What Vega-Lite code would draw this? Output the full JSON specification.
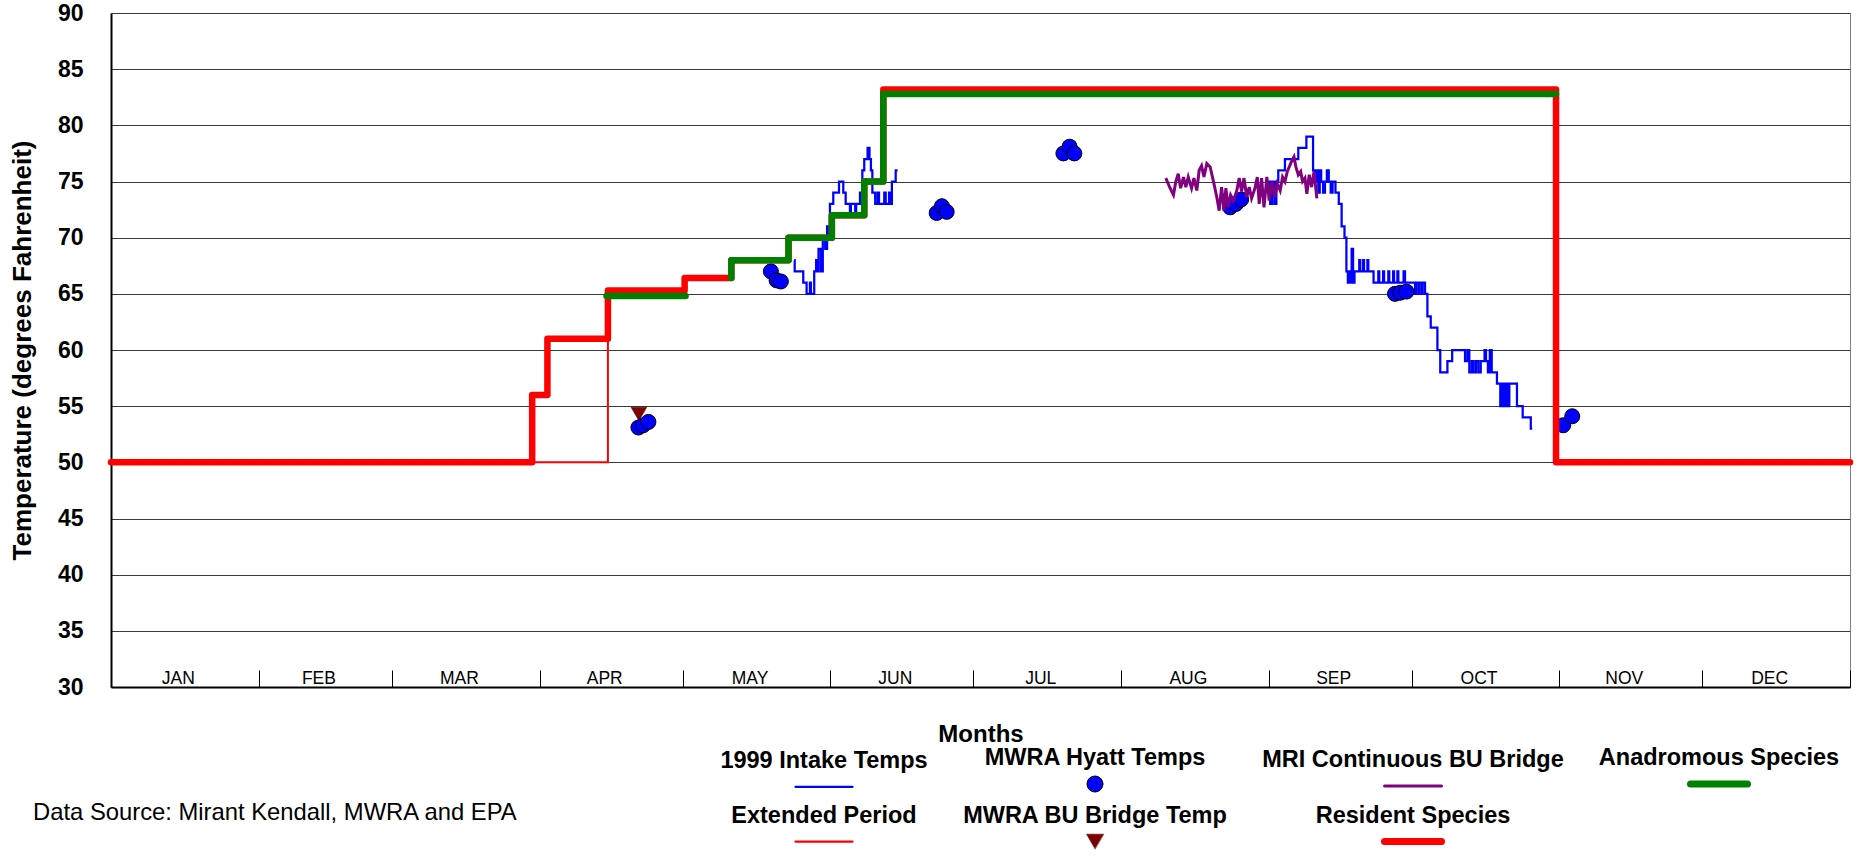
{
  "$schema": "https://vega.github.io/schema/vega-lite/v6.json",
  "autosize": {"type": "none"},
  "padding": {"left": 111, "top": 13, "right": 9, "bottom": 170},
  "width": 1739,
  "height": 674,
  "background": "white",
  "config": {
    "view": {"stroke": "#808080", "strokeWidth": 1},
    "font": "Liberation Sans"
  },
  "title": {
    "text": "Data Source: Mirant Kendall, MWRA and EPA",
    "orient": "bottom",
    "anchor": "start",
    "frame": "group",
    "font": "Liberation Sans",
    "fontSize": 23.8,
    "fontWeight": "normal",
    "color": "#000000",
    "baseline": "middle",
    "offset": 0,
    "dx": -78,
    "dy": -43
  },
  "datasets": {
    "lines": [
      {"series": "1999 Intake Temps", "seg": 1, "day": 143.4, "temp": 68},
      {"series": "1999 Intake Temps", "seg": 1, "day": 143.5, "temp": 67},
      {"series": "1999 Intake Temps", "seg": 1, "day": 145.3, "temp": 66},
      {"series": "1999 Intake Temps", "seg": 1, "day": 146.0, "temp": 65},
      {"series": "1999 Intake Temps", "seg": 1, "day": 146.7, "temp": 66},
      {"series": "1999 Intake Temps", "seg": 1, "day": 146.9, "temp": 65},
      {"series": "1999 Intake Temps", "seg": 1, "day": 147.6, "temp": 67},
      {"series": "1999 Intake Temps", "seg": 1, "day": 148.0, "temp": 68},
      {"series": "1999 Intake Temps", "seg": 1, "day": 148.3, "temp": 67},
      {"series": "1999 Intake Temps", "seg": 1, "day": 148.5, "temp": 69},
      {"series": "1999 Intake Temps", "seg": 1, "day": 149.0, "temp": 67},
      {"series": "1999 Intake Temps", "seg": 1, "day": 149.4, "temp": 70},
      {"series": "1999 Intake Temps", "seg": 1, "day": 149.9, "temp": 69},
      {"series": "1999 Intake Temps", "seg": 1, "day": 150.3, "temp": 71},
      {"series": "1999 Intake Temps", "seg": 1, "day": 150.6, "temp": 70},
      {"series": "1999 Intake Temps", "seg": 1, "day": 150.9, "temp": 73},
      {"series": "1999 Intake Temps", "seg": 1, "day": 151.6, "temp": 74},
      {"series": "1999 Intake Temps", "seg": 1, "day": 152.8, "temp": 75},
      {"series": "1999 Intake Temps", "seg": 1, "day": 153.7, "temp": 74},
      {"series": "1999 Intake Temps", "seg": 1, "day": 154.2, "temp": 73},
      {"series": "1999 Intake Temps", "seg": 1, "day": 155.1, "temp": 72},
      {"series": "1999 Intake Temps", "seg": 1, "day": 155.3, "temp": 73},
      {"series": "1999 Intake Temps", "seg": 1, "day": 156.2, "temp": 72},
      {"series": "1999 Intake Temps", "seg": 1, "day": 156.4, "temp": 73},
      {"series": "1999 Intake Temps", "seg": 1, "day": 157.2, "temp": 74},
      {"series": "1999 Intake Temps", "seg": 1, "day": 157.7, "temp": 76},
      {"series": "1999 Intake Temps", "seg": 1, "day": 158.1, "temp": 77},
      {"series": "1999 Intake Temps", "seg": 1, "day": 158.8, "temp": 78},
      {"series": "1999 Intake Temps", "seg": 1, "day": 159.2, "temp": 77},
      {"series": "1999 Intake Temps", "seg": 1, "day": 159.5, "temp": 76},
      {"series": "1999 Intake Temps", "seg": 1, "day": 159.8, "temp": 74},
      {"series": "1999 Intake Temps", "seg": 1, "day": 160.4, "temp": 73},
      {"series": "1999 Intake Temps", "seg": 1, "day": 160.9, "temp": 74},
      {"series": "1999 Intake Temps", "seg": 1, "day": 161.2, "temp": 73},
      {"series": "1999 Intake Temps", "seg": 1, "day": 162.3, "temp": 74},
      {"series": "1999 Intake Temps", "seg": 1, "day": 162.6, "temp": 73},
      {"series": "1999 Intake Temps", "seg": 1, "day": 163.3, "temp": 74},
      {"series": "1999 Intake Temps", "seg": 1, "day": 163.6, "temp": 73},
      {"series": "1999 Intake Temps", "seg": 1, "day": 163.9, "temp": 75},
      {"series": "1999 Intake Temps", "seg": 1, "day": 164.7, "temp": 76},
      {"series": "1999 Intake Temps", "seg": 1, "day": 165.1, "temp": 76},
      {"series": "1999 Intake Temps", "seg": 2, "day": 242.8, "temp": 75},
      {"series": "1999 Intake Temps", "seg": 2, "day": 243.3, "temp": 73},
      {"series": "1999 Intake Temps", "seg": 2, "day": 243.7, "temp": 75},
      {"series": "1999 Intake Temps", "seg": 2, "day": 244.2, "temp": 73},
      {"series": "1999 Intake Temps", "seg": 2, "day": 244.6, "temp": 75},
      {"series": "1999 Intake Temps", "seg": 2, "day": 245.0, "temp": 76},
      {"series": "1999 Intake Temps", "seg": 2, "day": 246.4, "temp": 77},
      {"series": "1999 Intake Temps", "seg": 2, "day": 249.2, "temp": 78},
      {"series": "1999 Intake Temps", "seg": 2, "day": 250.9, "temp": 79},
      {"series": "1999 Intake Temps", "seg": 2, "day": 252.3, "temp": 76},
      {"series": "1999 Intake Temps", "seg": 2, "day": 252.7, "temp": 75},
      {"series": "1999 Intake Temps", "seg": 2, "day": 253.0, "temp": 76},
      {"series": "1999 Intake Temps", "seg": 2, "day": 253.4, "temp": 74},
      {"series": "1999 Intake Temps", "seg": 2, "day": 253.7, "temp": 76},
      {"series": "1999 Intake Temps", "seg": 2, "day": 254.0, "temp": 75},
      {"series": "1999 Intake Temps", "seg": 2, "day": 254.4, "temp": 74},
      {"series": "1999 Intake Temps", "seg": 2, "day": 254.8, "temp": 75},
      {"series": "1999 Intake Temps", "seg": 2, "day": 255.2, "temp": 76},
      {"series": "1999 Intake Temps", "seg": 2, "day": 255.6, "temp": 75},
      {"series": "1999 Intake Temps", "seg": 2, "day": 256.0, "temp": 74},
      {"series": "1999 Intake Temps", "seg": 2, "day": 256.4, "temp": 75},
      {"series": "1999 Intake Temps", "seg": 2, "day": 257.0, "temp": 74},
      {"series": "1999 Intake Temps", "seg": 2, "day": 257.7, "temp": 73},
      {"series": "1999 Intake Temps", "seg": 2, "day": 258.3, "temp": 71},
      {"series": "1999 Intake Temps", "seg": 2, "day": 258.9, "temp": 70},
      {"series": "1999 Intake Temps", "seg": 2, "day": 259.3, "temp": 67},
      {"series": "1999 Intake Temps", "seg": 2, "day": 259.6, "temp": 66},
      {"series": "1999 Intake Temps", "seg": 2, "day": 259.9, "temp": 67},
      {"series": "1999 Intake Temps", "seg": 2, "day": 260.2, "temp": 66},
      {"series": "1999 Intake Temps", "seg": 2, "day": 260.4, "temp": 69},
      {"series": "1999 Intake Temps", "seg": 2, "day": 260.7, "temp": 66},
      {"series": "1999 Intake Temps", "seg": 2, "day": 261.0, "temp": 67},
      {"series": "1999 Intake Temps", "seg": 2, "day": 262.0, "temp": 68},
      {"series": "1999 Intake Temps", "seg": 2, "day": 262.2, "temp": 67},
      {"series": "1999 Intake Temps", "seg": 2, "day": 262.8, "temp": 68},
      {"series": "1999 Intake Temps", "seg": 2, "day": 263.0, "temp": 67},
      {"series": "1999 Intake Temps", "seg": 2, "day": 263.7, "temp": 68},
      {"series": "1999 Intake Temps", "seg": 2, "day": 263.9, "temp": 67},
      {"series": "1999 Intake Temps", "seg": 2, "day": 265.0, "temp": 66},
      {"series": "1999 Intake Temps", "seg": 2, "day": 266.0, "temp": 67},
      {"series": "1999 Intake Temps", "seg": 2, "day": 266.2, "temp": 66},
      {"series": "1999 Intake Temps", "seg": 2, "day": 267.0, "temp": 67},
      {"series": "1999 Intake Temps", "seg": 2, "day": 267.2, "temp": 66},
      {"series": "1999 Intake Temps", "seg": 2, "day": 268.1, "temp": 67},
      {"series": "1999 Intake Temps", "seg": 2, "day": 268.3, "temp": 66},
      {"series": "1999 Intake Temps", "seg": 2, "day": 269.1, "temp": 67},
      {"series": "1999 Intake Temps", "seg": 2, "day": 269.3, "temp": 66},
      {"series": "1999 Intake Temps", "seg": 2, "day": 270.0, "temp": 67},
      {"series": "1999 Intake Temps", "seg": 2, "day": 270.2, "temp": 66},
      {"series": "1999 Intake Temps", "seg": 2, "day": 271.3, "temp": 67},
      {"series": "1999 Intake Temps", "seg": 2, "day": 271.6, "temp": 66},
      {"series": "1999 Intake Temps", "seg": 2, "day": 273.7, "temp": 65},
      {"series": "1999 Intake Temps", "seg": 2, "day": 273.9, "temp": 66},
      {"series": "1999 Intake Temps", "seg": 2, "day": 274.4, "temp": 65},
      {"series": "1999 Intake Temps", "seg": 2, "day": 274.6, "temp": 66},
      {"series": "1999 Intake Temps", "seg": 2, "day": 275.1, "temp": 65},
      {"series": "1999 Intake Temps", "seg": 2, "day": 275.3, "temp": 66},
      {"series": "1999 Intake Temps", "seg": 2, "day": 275.8, "temp": 65},
      {"series": "1999 Intake Temps", "seg": 2, "day": 276.3, "temp": 63},
      {"series": "1999 Intake Temps", "seg": 2, "day": 277.0, "temp": 62},
      {"series": "1999 Intake Temps", "seg": 2, "day": 278.4, "temp": 60},
      {"series": "1999 Intake Temps", "seg": 2, "day": 279.0, "temp": 58},
      {"series": "1999 Intake Temps", "seg": 2, "day": 280.5, "temp": 59},
      {"series": "1999 Intake Temps", "seg": 2, "day": 281.5, "temp": 60},
      {"series": "1999 Intake Temps", "seg": 2, "day": 284.2, "temp": 59},
      {"series": "1999 Intake Temps", "seg": 2, "day": 284.7, "temp": 60},
      {"series": "1999 Intake Temps", "seg": 2, "day": 285.1, "temp": 58},
      {"series": "1999 Intake Temps", "seg": 2, "day": 285.6, "temp": 59},
      {"series": "1999 Intake Temps", "seg": 2, "day": 286.0, "temp": 58},
      {"series": "1999 Intake Temps", "seg": 2, "day": 286.5, "temp": 59},
      {"series": "1999 Intake Temps", "seg": 2, "day": 287.0, "temp": 58},
      {"series": "1999 Intake Temps", "seg": 2, "day": 287.5, "temp": 59},
      {"series": "1999 Intake Temps", "seg": 2, "day": 288.3, "temp": 60},
      {"series": "1999 Intake Temps", "seg": 2, "day": 288.6, "temp": 59},
      {"series": "1999 Intake Temps", "seg": 2, "day": 289.0, "temp": 58},
      {"series": "1999 Intake Temps", "seg": 2, "day": 289.4, "temp": 60},
      {"series": "1999 Intake Temps", "seg": 2, "day": 289.8, "temp": 58},
      {"series": "1999 Intake Temps", "seg": 2, "day": 290.9, "temp": 57},
      {"series": "1999 Intake Temps", "seg": 2, "day": 291.6, "temp": 55},
      {"series": "1999 Intake Temps", "seg": 2, "day": 292.0, "temp": 57},
      {"series": "1999 Intake Temps", "seg": 2, "day": 292.4, "temp": 55},
      {"series": "1999 Intake Temps", "seg": 2, "day": 292.8, "temp": 57},
      {"series": "1999 Intake Temps", "seg": 2, "day": 293.2, "temp": 55},
      {"series": "1999 Intake Temps", "seg": 2, "day": 293.5, "temp": 57},
      {"series": "1999 Intake Temps", "seg": 2, "day": 295.1, "temp": 55},
      {"series": "1999 Intake Temps", "seg": 2, "day": 296.3, "temp": 54},
      {"series": "1999 Intake Temps", "seg": 2, "day": 298.0, "temp": 53},
      {"series": "1999 Intake Temps", "seg": 2, "day": 298.3, "temp": 53},

      {"series": "MRI Continuous BU Bridge", "seg": 1, "day": 221.4, "temp": 75.3},
      {"series": "MRI Continuous BU Bridge", "seg": 1, "day": 222.3, "temp": 74.4},
      {"series": "MRI Continuous BU Bridge", "seg": 1, "day": 223.0, "temp": 73.8},
      {"series": "MRI Continuous BU Bridge", "seg": 1, "day": 223.5, "temp": 75.0},
      {"series": "MRI Continuous BU Bridge", "seg": 1, "day": 224.0, "temp": 75.7},
      {"series": "MRI Continuous BU Bridge", "seg": 1, "day": 224.5, "temp": 74.4},
      {"series": "MRI Continuous BU Bridge", "seg": 1, "day": 225.1, "temp": 75.4},
      {"series": "MRI Continuous BU Bridge", "seg": 1, "day": 225.6, "temp": 74.5},
      {"series": "MRI Continuous BU Bridge", "seg": 1, "day": 226.1, "temp": 75.4},
      {"series": "MRI Continuous BU Bridge", "seg": 1, "day": 226.8, "temp": 74.4},
      {"series": "MRI Continuous BU Bridge", "seg": 1, "day": 227.3, "temp": 75.3},
      {"series": "MRI Continuous BU Bridge", "seg": 1, "day": 227.9, "temp": 74.2},
      {"series": "MRI Continuous BU Bridge", "seg": 1, "day": 228.4, "temp": 76.0},
      {"series": "MRI Continuous BU Bridge", "seg": 1, "day": 228.9, "temp": 76.4},
      {"series": "MRI Continuous BU Bridge", "seg": 1, "day": 229.4, "temp": 75.4},
      {"series": "MRI Continuous BU Bridge", "seg": 1, "day": 230.0, "temp": 76.6},
      {"series": "MRI Continuous BU Bridge", "seg": 1, "day": 230.7, "temp": 76.3},
      {"series": "MRI Continuous BU Bridge", "seg": 1, "day": 231.4, "temp": 75.0},
      {"series": "MRI Continuous BU Bridge", "seg": 1, "day": 232.1, "temp": 73.6},
      {"series": "MRI Continuous BU Bridge", "seg": 1, "day": 232.6, "temp": 72.4},
      {"series": "MRI Continuous BU Bridge", "seg": 1, "day": 233.1, "temp": 74.5},
      {"series": "MRI Continuous BU Bridge", "seg": 1, "day": 233.6, "temp": 72.4},
      {"series": "MRI Continuous BU Bridge", "seg": 1, "day": 234.0, "temp": 74.4},
      {"series": "MRI Continuous BU Bridge", "seg": 1, "day": 234.5, "temp": 72.7},
      {"series": "MRI Continuous BU Bridge", "seg": 1, "day": 235.0, "temp": 73.8},
      {"series": "MRI Continuous BU Bridge", "seg": 1, "day": 235.6, "temp": 73.3},
      {"series": "MRI Continuous BU Bridge", "seg": 1, "day": 236.3, "temp": 74.2},
      {"series": "MRI Continuous BU Bridge", "seg": 1, "day": 236.8, "temp": 75.3},
      {"series": "MRI Continuous BU Bridge", "seg": 1, "day": 237.3, "temp": 74.1},
      {"series": "MRI Continuous BU Bridge", "seg": 1, "day": 237.8, "temp": 75.3},
      {"series": "MRI Continuous BU Bridge", "seg": 1, "day": 238.4, "temp": 73.6},
      {"series": "MRI Continuous BU Bridge", "seg": 1, "day": 238.9, "temp": 74.5},
      {"series": "MRI Continuous BU Bridge", "seg": 1, "day": 239.4, "temp": 73.5},
      {"series": "MRI Continuous BU Bridge", "seg": 1, "day": 240.1, "temp": 74.4},
      {"series": "MRI Continuous BU Bridge", "seg": 1, "day": 240.6, "temp": 75.4},
      {"series": "MRI Continuous BU Bridge", "seg": 1, "day": 241.0, "temp": 73.0},
      {"series": "MRI Continuous BU Bridge", "seg": 1, "day": 241.5, "temp": 75.3},
      {"series": "MRI Continuous BU Bridge", "seg": 1, "day": 242.0, "temp": 72.7},
      {"series": "MRI Continuous BU Bridge", "seg": 1, "day": 242.6, "temp": 75.4},
      {"series": "MRI Continuous BU Bridge", "seg": 1, "day": 243.1, "temp": 73.3},
      {"series": "MRI Continuous BU Bridge", "seg": 1, "day": 243.7, "temp": 75.0},
      {"series": "MRI Continuous BU Bridge", "seg": 1, "day": 244.3, "temp": 73.6},
      {"series": "MRI Continuous BU Bridge", "seg": 1, "day": 244.8, "temp": 74.8},
      {"series": "MRI Continuous BU Bridge", "seg": 1, "day": 245.4, "temp": 74.2},
      {"series": "MRI Continuous BU Bridge", "seg": 1, "day": 245.9, "temp": 75.4},
      {"series": "MRI Continuous BU Bridge", "seg": 1, "day": 246.4, "temp": 75.0},
      {"series": "MRI Continuous BU Bridge", "seg": 1, "day": 246.9, "temp": 75.9},
      {"series": "MRI Continuous BU Bridge", "seg": 1, "day": 247.5, "temp": 76.5},
      {"series": "MRI Continuous BU Bridge", "seg": 1, "day": 247.9, "temp": 76.9},
      {"series": "MRI Continuous BU Bridge", "seg": 1, "day": 248.3, "temp": 77.2},
      {"series": "MRI Continuous BU Bridge", "seg": 1, "day": 248.7, "temp": 76.3},
      {"series": "MRI Continuous BU Bridge", "seg": 1, "day": 249.2, "temp": 75.6},
      {"series": "MRI Continuous BU Bridge", "seg": 1, "day": 249.7, "temp": 75.9},
      {"series": "MRI Continuous BU Bridge", "seg": 1, "day": 250.1, "temp": 75.0},
      {"series": "MRI Continuous BU Bridge", "seg": 1, "day": 250.6, "temp": 75.3},
      {"series": "MRI Continuous BU Bridge", "seg": 1, "day": 251.0, "temp": 73.9},
      {"series": "MRI Continuous BU Bridge", "seg": 1, "day": 251.5, "temp": 75.6},
      {"series": "MRI Continuous BU Bridge", "seg": 1, "day": 252.0, "temp": 74.5},
      {"series": "MRI Continuous BU Bridge", "seg": 1, "day": 252.5, "temp": 75.9},
      {"series": "MRI Continuous BU Bridge", "seg": 1, "day": 253.1, "temp": 73.5},

      {"series": "Extended Period", "seg": 1, "day": 88.4, "temp": 50},
      {"series": "Extended Period", "seg": 1, "day": 104.3, "temp": 50},
      {"series": "Extended Period", "seg": 1, "day": 104.3, "temp": 61},

      {"series": "Resident Species", "seg": 1, "day": 0, "temp": 50},
      {"series": "Resident Species", "seg": 1, "day": 88.4, "temp": 56},
      {"series": "Resident Species", "seg": 1, "day": 91.6, "temp": 61},
      {"series": "Resident Species", "seg": 1, "day": 104.3, "temp": 65.3},
      {"series": "Resident Species", "seg": 1, "day": 120.4, "temp": 66.4},
      {"series": "Resident Species", "seg": 1, "day": 130.2, "temp": 68},
      {"series": "Resident Species", "seg": 1, "day": 142.2, "temp": 70},
      {"series": "Resident Species", "seg": 1, "day": 151.3, "temp": 72},
      {"series": "Resident Species", "seg": 1, "day": 158.1, "temp": 75},
      {"series": "Resident Species", "seg": 1, "day": 162.1, "temp": 83.2},
      {"series": "Resident Species", "seg": 1, "day": 303.3, "temp": 50},
      {"series": "Resident Species", "seg": 1, "day": 365, "temp": 50},

      {"series": "Anadromous Species", "seg": 1, "day": 104.0, "temp": 64.8},
      {"series": "Anadromous Species", "seg": 1, "day": 120.6, "temp": 64.8},
      {"series": "Anadromous Species", "seg": 2, "day": 130.2, "temp": 66.4},
      {"series": "Anadromous Species", "seg": 2, "day": 130.2, "temp": 68},
      {"series": "Anadromous Species", "seg": 2, "day": 142.2, "temp": 70},
      {"series": "Anadromous Species", "seg": 2, "day": 151.3, "temp": 72},
      {"series": "Anadromous Species", "seg": 2, "day": 158.1, "temp": 75},
      {"series": "Anadromous Species", "seg": 2, "day": 162.1, "temp": 82.8},
      {"series": "Anadromous Species", "seg": 2, "day": 303.3, "temp": 82.8}
    ],
    "points": [
      {"series": "MWRA BU Bridge Temp", "day": 110.8, "temp": 54.3},
      {"series": "MWRA Hyatt Temps", "day": 110.7, "temp": 53.1},
      {"series": "MWRA Hyatt Temps", "day": 111.7, "temp": 53.3},
      {"series": "MWRA Hyatt Temps", "day": 112.8, "temp": 53.6},
      {"series": "MWRA Hyatt Temps", "day": 138.5, "temp": 67.0},
      {"series": "MWRA Hyatt Temps", "day": 139.7, "temp": 66.2},
      {"series": "MWRA Hyatt Temps", "day": 140.6, "temp": 66.1},
      {"series": "MWRA Hyatt Temps", "day": 173.3, "temp": 72.2},
      {"series": "MWRA Hyatt Temps", "day": 174.4, "temp": 72.8},
      {"series": "MWRA Hyatt Temps", "day": 175.4, "temp": 72.3},
      {"series": "MWRA Hyatt Temps", "day": 199.9, "temp": 77.5},
      {"series": "MWRA Hyatt Temps", "day": 201.2, "temp": 78.1},
      {"series": "MWRA Hyatt Temps", "day": 202.2, "temp": 77.5},
      {"series": "MWRA Hyatt Temps", "day": 234.9, "temp": 72.7},
      {"series": "MWRA Hyatt Temps", "day": 236.1, "temp": 73.0},
      {"series": "MWRA Hyatt Temps", "day": 237.2, "temp": 73.4},
      {"series": "MWRA Hyatt Temps", "day": 269.5, "temp": 65.0},
      {"series": "MWRA Hyatt Temps", "day": 270.6, "temp": 65.1},
      {"series": "MWRA Hyatt Temps", "day": 271.9, "temp": 65.2},
      {"series": "MWRA Hyatt Temps", "day": 304.8, "temp": 53.3},
      {"series": "MWRA Hyatt Temps", "day": 306.7, "temp": 54.1}
    ]
  },
  "resolve": {"axis": {"x": "independent"}},
  "layer": [
    {
      "data": {"name": "lines"},
      "transform": [{"filter": "datum.series == '1999 Intake Temps'"}],
      "mark": {"type": "line", "interpolate": "step-after", "strokeWidth": 2.25, "strokeJoin": "miter"},
      "encoding": {
        "x": {"field": "day", "type": "quantitative", "scale": {"domain": [0, 365], "nice": false, "zero": false}, "axis": null},
        "y": {
          "field": "temp", "type": "quantitative",
          "scale": {"domain": [30, 90], "nice": false, "zero": false},
          "axis": {
            "values": [30, 35, 40, 45, 50, 55, 60, 65, 70, 75, 80, 85, 90],
            "grid": true, "gridColor": "#3a3a3a", "gridWidth": 1, "gridOpacity": 1,
            "domain": true, "domainColor": "#000000", "domainWidth": 2,
            "ticks": false, "tickSize": 0,
            "labelPadding": 28, "labelFont": "Liberation Sans", "labelFontSize": 23, "labelFontWeight": "bold", "labelColor": "#000000",
            "title": "Temperature (degrees Fahrenheit)",
            "titleFont": "Liberation Sans", "titleFontSize": 26, "titleFontWeight": "bold", "titleColor": "#000000",
            "titleAngle": -90, "titleBaseline": "middle", "titleAlign": "center",
            "titleX": -89, "titleY": 337
          }
        },
        "color": {
          "field": "series", "type": "nominal",
          "scale": {
            "domain": ["1999 Intake Temps", "MWRA Hyatt Temps", "MRI Continuous BU Bridge", "Anadromous Species", "Extended Period", "MWRA BU Bridge Temp", "Resident Species"],
            "range": ["#0000FF", "#000000", "#800080", "#008000", "#FF0000", "#400000", "#FF0000"]
          },
          "legend": {
            "orient": "none", "legendX": 713, "legendY": 741,
            "direction": "horizontal", "columns": 4,
            "title": null, "padding": 0,
            "columnPadding": 34, "rowPadding": 5.5, "gridAlign": "each",
            "labelFont": "Liberation Sans", "labelFontSize": 23.5, "labelFontWeight": "bold", "labelColor": "#000000", "labelLimit": 500,
            "symbolType": "stroke", "symbolSize": 3249, "symbolStrokeWidth": 2.25,
            "encode": {
              "symbols": {
                "update": {
                  "x": {"value": 0},
                  "y": {"signal": "datum.value == 'Anadromous Species' ? 30 : 26"},
                  "shape": {"signal": "datum.value == 'MWRA Hyatt Temps' ? 'circle' : datum.value == 'MWRA BU Bridge Temp' ? 'triangle-down' : 'stroke'"},
                  "size": {"signal": "datum.value == 'MWRA Hyatt Temps' ? 256 : datum.value == 'MWRA BU Bridge Temp' ? 289 : 3249"},
                  "strokeWidth": {"signal": "datum.value == 'Anadromous Species' || datum.value == 'Resident Species' ? 7 : datum.value == 'MRI Continuous BU Bridge' ? 3 : datum.value == 'MWRA Hyatt Temps' ? 1 : datum.value == 'MWRA BU Bridge Temp' ? 0.5 : 2.25"},
                  "fill": {"signal": "datum.value == 'MWRA Hyatt Temps' ? '#0000FF' : datum.value == 'MWRA BU Bridge Temp' ? '#800000' : 'transparent'"},
                  "strokeCap": {"value": "round"},
                  "opacity": {"value": 1}
                }
              },
              "labels": {
                "update": {
                  "x": {"value": 0},
                  "y": {"signal": "datum.value == 'Anadromous Species' ? 4 : 0"},
                  "align": {"value": "center"},
                  "baseline": {"value": "middle"}
                }
              }
            }
          }
        },
        "detail": {"field": "seg", "type": "nominal"}
      }
    },
    {
      "data": {"name": "points"},
      "transform": [{"filter": "datum.series == 'MWRA BU Bridge Temp'"}],
      "mark": {"type": "point", "shape": "triangle-down", "filled": true, "size": 246, "fill": "#800000", "stroke": "#400000", "strokeWidth": 0.5, "opacity": 1},
      "encoding": {
        "x": {
          "field": "day", "type": "quantitative", "scale": {"domain": [0, 365], "nice": false, "zero": false},
          "axis": {
            "orient": "bottom",
            "values": [0, 31, 59, 90, 120, 151, 181, 212, 243, 273, 304, 334, 365],
            "labels": false, "grid": false,
            "ticks": true, "tickSize": -17, "tickColor": "#000000", "tickWidth": 1,
            "domain": true, "domainColor": "#000000", "domainWidth": 2,
            "title": "Months", "titleFont": "Liberation Sans", "titleFontSize": 24, "titleFontWeight": "bold", "titleColor": "#000000",
            "titleBaseline": "alphabetic", "titleAlign": "center", "titleX": 869.5, "titleY": 54
          }
        },
        "y": {"field": "temp", "type": "quantitative"}
      }
    },
    {
      "data": {"name": "points"},
      "transform": [{"filter": "datum.series == 'MWRA Hyatt Temps'"}],
      "mark": {"type": "point", "shape": "circle", "filled": true, "size": 225, "fill": "#0000FF", "stroke": "#000000", "strokeWidth": 1, "opacity": 1},
      "encoding": {
        "x": {
          "field": "day", "type": "quantitative", "scale": {"domain": [0, 365], "nice": false, "zero": false},
          "axis": {
            "orient": "bottom",
            "values": [15.5, 45, 74.5, 105, 135.5, 166, 196.5, 227.5, 258, 288.5, 319, 349.5],
            "labelExpr": "['JAN','FEB','MAR','APR','MAY','JUN','JUL','AUG','SEP','OCT','NOV','DEC'][floor(datum.value / 30.5)]",
            "ticks": false, "tickSize": 0, "domain": false, "grid": false,
            "labelPadding": -9, "labelBaseline": "middle", "labelOffset": -7,
            "labelFont": "Liberation Sans", "labelFontSize": 17.5, "labelFontWeight": "normal", "labelColor": "#000000",
            "labelOverlap": false, "labelFlush": false,
            "title": null
          }
        },
        "y": {"field": "temp", "type": "quantitative"}
      }
    },
    {
      "data": {"name": "lines"},
      "transform": [{"filter": "datum.series == 'MRI Continuous BU Bridge'"}],
      "mark": {"type": "line", "strokeWidth": 3},
      "encoding": {
        "x": {"field": "day", "type": "quantitative", "axis": null},
        "y": {"field": "temp", "type": "quantitative"},
        "color": {"field": "series", "type": "nominal"}
      }
    },
    {
      "data": {"name": "lines"},
      "transform": [{"filter": "datum.series == 'Extended Period'"}],
      "mark": {"type": "line", "strokeWidth": 2},
      "encoding": {
        "x": {"field": "day", "type": "quantitative", "axis": null},
        "y": {"field": "temp", "type": "quantitative"},
        "color": {"field": "series", "type": "nominal"}
      }
    },
    {
      "data": {"name": "lines"},
      "transform": [{"filter": "datum.series == 'Resident Species'"}],
      "mark": {"type": "line", "interpolate": "step-after", "strokeWidth": 6.5, "strokeJoin": "round", "strokeCap": "round"},
      "encoding": {
        "x": {"field": "day", "type": "quantitative", "axis": null},
        "y": {"field": "temp", "type": "quantitative"},
        "color": {"field": "series", "type": "nominal"}
      }
    },
    {
      "data": {"name": "lines"},
      "transform": [{"filter": "datum.series == 'Anadromous Species'"}],
      "mark": {"type": "line", "interpolate": "step-after", "strokeWidth": 6.5, "strokeJoin": "round", "strokeCap": "round"},
      "encoding": {
        "x": {"field": "day", "type": "quantitative", "axis": null},
        "y": {"field": "temp", "type": "quantitative"},
        "color": {"field": "series", "type": "nominal"},
        "detail": {"field": "seg", "type": "nominal"}
      }
    }
  ]
}
